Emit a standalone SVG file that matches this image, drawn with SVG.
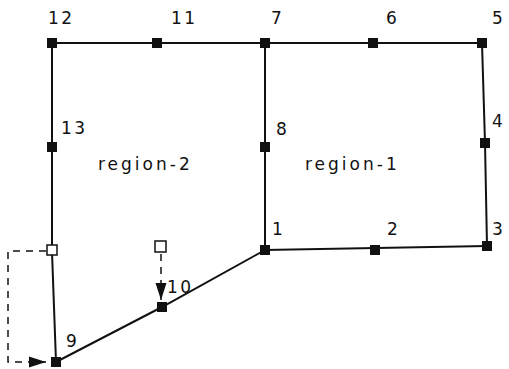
<svg xmlns="http://www.w3.org/2000/svg" width="509" height="369" viewBox="0 0 509 369">
<style>
.n{fill:#111}
.o{fill:#fff;stroke:#111;stroke-width:1.5}
.e{stroke:#111;stroke-width:2;fill:none}
.d{stroke:#111;stroke-width:1.5;fill:none;stroke-dasharray:7,6}
text{font-family:"DejaVu Sans","Liberation Sans",sans-serif;font-size:17px;fill:#111}
.r{letter-spacing:3px}
.s{letter-spacing:2.5px}
</style>
<defs>
<marker id="ah" markerWidth="18" markerHeight="14" refX="17" refY="6" orient="auto" markerUnits="userSpaceOnUse">
<path d="M0,0.5 L17,6 L0,11.5 Z" fill="#111"/>
</marker>
</defs>
<g id="connectors">
<path class="e" d="M52,43 L482,43"/>
<path class="e" d="M52,43 L52,248"/>
<path class="e" d="M52,252 L56,362"/>
<path class="e" d="M265,43 L265,250 L487,246"/>
<path class="e" d="M482,43 L485,143 L487,246"/>
<path class="e" d="M56,362 L162,307 L265,250"/>
<path class="d" d="M46,251 L8,251 L8,362 L46,362" marker-end="url(#ah)"/>
<path class="d" d="M161,254 L161,300" marker-end="url(#ah)"/>
</g>
<g id="n12"><rect class="n" x="47" y="38" width="10" height="10"/><text class="s" x="48" y="24">12</text></g>
<g id="n11"><rect class="n" x="152" y="38" width="10" height="10"/><text class="s" x="171" y="24">11</text></g>
<g id="n7"><rect class="n" x="260" y="38" width="10" height="10"/><text x="271" y="24">7</text></g>
<g id="n6"><rect class="n" x="368" y="38" width="10" height="10"/><text x="386" y="24">6</text></g>
<g id="n5"><rect class="n" x="477" y="38" width="10" height="10"/><text x="492" y="24">5</text></g>
<g id="n13"><rect class="n" x="47" y="142" width="10" height="10"/><text class="s" x="61" y="134">13</text></g>
<g id="n8"><rect class="n" x="260" y="142" width="10" height="10"/><text x="276" y="135">8</text></g>
<g id="n4"><rect class="n" x="480" y="138" width="10" height="10"/><text x="492" y="127">4</text></g>
<g id="n1"><rect class="n" x="260" y="245" width="10" height="10"/><text x="272" y="235">1</text></g>
<g id="n2"><rect class="n" x="370" y="245" width="10" height="10"/><text x="387" y="235">2</text></g>
<g id="n3"><rect class="n" x="482" y="241" width="10" height="10"/><text x="492" y="235">3</text></g>
<g id="n10"><rect class="n" x="157" y="302" width="10" height="10"/><text class="s" x="167" y="293">10</text></g>
<g id="n9"><rect class="n" x="51" y="357" width="10" height="10"/><text x="66" y="347">9</text></g>
<g id="p1"><rect class="o" x="47" y="245" width="10" height="10"/></g>
<g id="p2"><rect class="o" x="155" y="241" width="11" height="11"/></g>
<g id="region-2"><text class="r" x="98" y="170">region-2</text></g>
<g id="region-1"><text class="r" x="305" y="170">region-1</text></g>
</svg>
